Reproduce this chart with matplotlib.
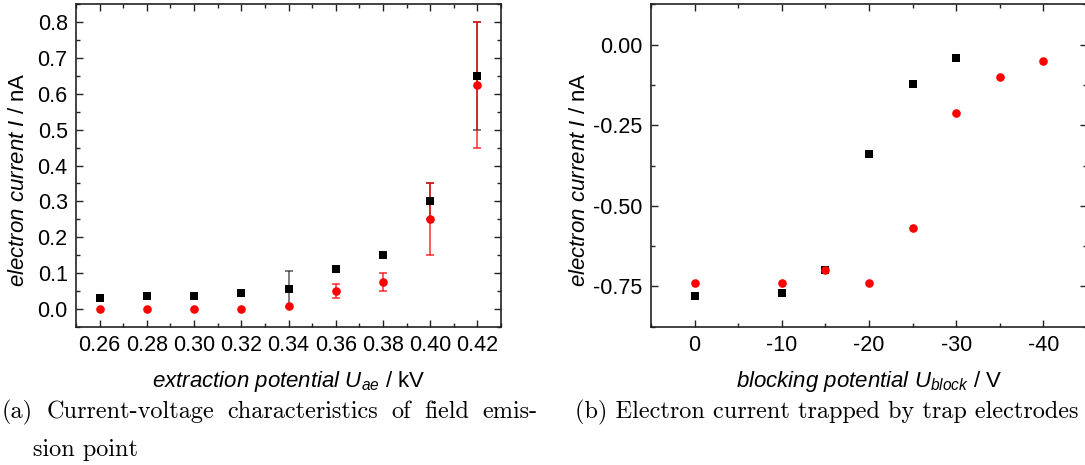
import numpy as np
import matplotlib
matplotlib.use('Agg')
import matplotlib.pyplot as plt
from matplotlib.ticker import FormatStrFormatter, MultipleLocator

plt.rcParams['font.family'] = 'Liberation Sans'
plt.rcParams['mathtext.fontset'] = 'custom'
plt.rcParams['mathtext.rm'] = 'Liberation Sans'
plt.rcParams['mathtext.it'] = 'Liberation Sans:italic'
plt.rcParams['mathtext.sf'] = 'Liberation Sans'
plt.rcParams['axes.unicode_minus'] = False

# (a) field emission point, I-U characteristic
u_ae = [0.26, 0.28, 0.30, 0.32, 0.34, 0.36, 0.38, 0.40, 0.42]
i_black = [0.030, 0.035, 0.037, 0.043, 0.055, 0.110, 0.150, 0.300, 0.650]
err_black = [0, 0, 0, 0, 0.05, 0, 0, 0.05, 0.15]
i_red = [0.0, 0.0, 0.0, 0.0, 0.007, 0.050, 0.075, 0.250, 0.625]
err_red = [0, 0, 0, 0, 0, 0.02, 0.025, 0.10, 0.175]

# (b) blocking potential scan
u_blk_black = [0, -10, -15, -20, -25, -30]
i_blk_black = [-0.780, -0.770, -0.700, -0.340, -0.121, -0.041]
u_blk_red = [0, -10, -15, -20, -25, -30, -35, -40]
i_blk_red = [-0.739, -0.739, -0.700, -0.739, -0.570, -0.212, -0.101, -0.051]

caption_a = ["(a) Current-voltage characteristics of field emis-", "sion point"]
caption_b = "(b) Electron current trapped by trap electrodes"

W, H = 1085, 465
fig = plt.figure(figsize=(W / 100, H / 100), dpi=100)

def px_axes(l, r, t, b):
    return fig.add_axes([l / W, 1 - b / H, (r - l) / W, (b - t) / H])

ax1 = px_axes(76, 501, 4.5, 326.7)
ax2 = px_axes(651, 1087, 4.5, 326.7)

ms = 6.2
for ax in (ax1, ax2):
    for sp in ax.spines.values():
        sp.set_linewidth(1.2)
        sp.set_color('#222222')
    ax.tick_params(which='both', direction='in', top=True, right=True,
                   labelsize=15.5, width=1.0, color='#222222')
    ax.tick_params(which='major', length=5, pad=6)
    ax.tick_params(which='minor', length=3)

# left panel
ub = np.array(u_ae)
eb = np.array(err_black)
er = np.array(err_red)
mb = eb > 0
mr = er > 0
ax1.errorbar(ub[mb], np.array(i_black)[mb], yerr=eb[mb], fmt='none',
             ecolor=(0, 0, 0, 0.6), elinewidth=1.2, capsize=3, capthick=1.2, zorder=2)
ax1.errorbar(ub[mr], np.array(i_red)[mr], yerr=er[mr], fmt='none',
             ecolor=(1, 0, 0, 0.75), elinewidth=1.2, capsize=3, capthick=1.2, zorder=3)
ax1.plot(u_ae, i_black, 's', color='black', ms=ms, mew=0, zorder=4)
ax1.plot(u_ae, i_red, 'o', color='red', ms=ms, mew=0, zorder=5)

ax1.set_xlim(0.25, 0.43)
ax1.set_ylim(-0.05, 0.85)
ax1.xaxis.set_minor_locator(MultipleLocator(0.01))
ax1.yaxis.set_major_locator(MultipleLocator(0.1))
ax1.yaxis.set_minor_locator(MultipleLocator(0.05))
ax1.set_xticks(u_ae)
ax1.xaxis.set_major_formatter(FormatStrFormatter('%.2f'))
ax1.yaxis.set_major_formatter(FormatStrFormatter('%.1f'))
ax1.set_xlabel(r'$extraction\ potential\ U_{ae}$ / kV', fontsize=16, labelpad=9)
ax1.set_ylabel(r'$electron\ current\ I$ / nA', fontsize=16)
ax1.yaxis.set_label_coords(-0.11, 0.455)

# right panel
ax2.plot(u_blk_black, i_blk_black, 's', color='black', ms=ms, mew=0, zorder=4)
ax2.plot(u_blk_red, i_blk_red, 'o', color='red', ms=ms, mew=0, zorder=5)
ax2.set_xlim(5, -45)
ax2.set_ylim(-0.875, 0.125)
ax2.set_xticks([0, -10, -20, -30, -40])
ax2.xaxis.set_minor_locator(MultipleLocator(5))
ax2.set_yticks([0.0, -0.25, -0.5, -0.75])
ax2.yaxis.set_minor_locator(MultipleLocator(0.125))
ax2.xaxis.set_major_formatter(FormatStrFormatter('%d'))
ax2.yaxis.set_major_formatter(FormatStrFormatter('%.2f'))
ax2.set_xlabel(r'$blocking\ potential\ U_{block}$ / V', fontsize=16, labelpad=9)
ax2.set_ylabel(r'$electron\ current\ I$ / nA', fontsize=16)
ax2.yaxis.set_label_coords(-0.14, 0.455)

# captions (first line of (a) justified like LaTeX)
cap = dict(fontfamily='cmr10', fontsize=17.5, va='baseline', ha='left')
renderer = fig.canvas.get_renderer()
words = caption_a[0].split(' ')
texts = [fig.text(0, 1 - 418 / H, w, **cap) for w in words]
widths = [t.get_window_extent(renderer).width for t in texts]
x0, x1 = 2, 537
gap = (x1 - x0 - sum(widths)) / (len(words) - 1)
x = x0
for t, w in zip(texts, widths):
    t.set_x(x / W)
    x += w + gap
fig.text(33 / W, 1 - 456 / H, caption_a[1], **cap)
fig.text(575 / W, 1 - 418 / H, caption_b, **cap)

fig.savefig('out.png', dpi=100)
